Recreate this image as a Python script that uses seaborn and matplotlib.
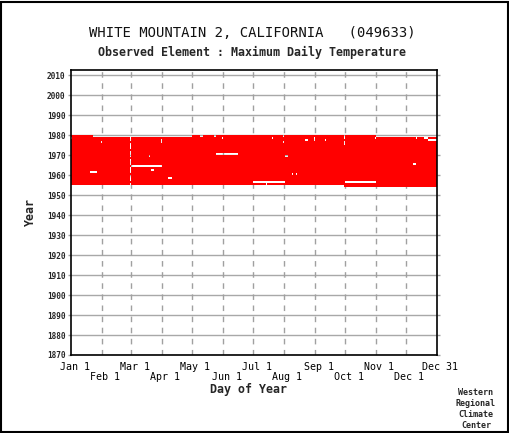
import numpy as np
import pandas as pd
import matplotlib
matplotlib.use("Agg")
import matplotlib.pyplot as plt
import matplotlib.transforms as mtrans
from matplotlib.patches import Rectangle
import seaborn as sns

# period of record, day index 0..365 on a 366 day calendar
first_year = 1954
last_year = 1979
leap_years = [1956, 1960, 1964, 1968, 1972, 1976]
feb29 = 59

# missing stretches: year, first day, end day (exclusive)
gap_year = [1954, 1979, 1979, 1979, 1979, 1979, 1979,
            1978, 1978, 1978, 1978, 1978, 1978, 1978, 1978,
            1977, 1977, 1977, 1977, 1977,
            1976, 1976, 1976, 1976, 1975,
            1970, 1969, 1969, 1965, 1964, 1962, 1961,
            1960, 1960, 1958, 1956, 1956, 1955]
gap_start = [0, 22, 129, 143, 212, 273, 305,
             0, 151, 201, 243, 273, 304, 345, 353,
             90, 234, 243, 254, 357,
             30, 90, 212, 273, 273,
             145, 78, 214, 342, 60, 80, 19,
             221, 225, 97, 182, 274, 195]
gap_end = [273, 121, 132, 145, 213, 274, 366,
           1, 152, 202, 244, 274, 305, 346, 357,
           91, 237, 244, 255, 366,
           31, 91, 213, 274, 274,
           167, 79, 217, 345, 91, 83, 26,
           222, 226, 101, 214, 305, 196]

month_days = [0, 31, 60, 91, 121, 152, 182, 213, 244, 274, 305, 335, 366]
month_labels = ["Jan 1", "Feb 1", "Mar 1", "Apr 1", "May 1", "Jun 1", "Jul 1",
                "Aug 1", "Sep 1", "Oct 1", "Nov 1", "Dec 1", "Dec 31"]
year_ticks = list(range(1870, 2011, 10))

gaps = pd.DataFrame({"year": gap_year, "start": gap_start, "end": gap_end})

sns.set_theme(style="white")
plt.rcParams["font.family"] = ["DejaVu Sans Mono", "DejaVu Sans"]

fig = plt.figure(figsize=(5.10, 4.33), dpi=100)
ax = fig.add_axes([71 / 510, 78 / 433, 366 / 510, 285 / 433])
ax.set_axisbelow(True)

for yr in range(first_year, last_year + 1):
    have = np.ones(366, dtype=bool)
    if yr not in leap_years:
        have[feb29] = False
    for _, g in gaps[gaps["year"] == yr].iterrows():
        have[g["start"]:g["end"]] = False
    # turn the day mask into runs
    d = np.diff(np.concatenate([[0], have.astype(int), [0]]))
    starts = np.where(d == 1)[0]
    ends = np.where(d == -1)[0]
    segs = [(s, e - s) for s, e in zip(starts, ends)]
    ax.broken_barh(segs, (yr, 1), facecolors="#ff0000", linewidth=0,
                   antialiased=False, zorder=2)

ax.set_xlim(0, 366)
ax.set_ylim(1870, 2012.7)

# grid: dashed month lines, solid decade lines
for x in month_days[1:-1]:
    ax.axvline(x, color="#a0a0a0", lw=1, ls=(0, (4, 4)), zorder=1)
ax.set_yticks(year_ticks)
ax.yaxis.grid(True, color="#a8a8a8", lw=1, zorder=1)
ax.xaxis.grid(False)

ax.set_xticks(month_days)
ax.set_xticklabels([("" if i % 2 == 0 else "\n") + lab
                    for i, lab in enumerate(month_labels)])
ax.tick_params(axis="x", length=0, pad=5, labelsize=7.2, colors="black")
shift = mtrans.ScaledTranslation(3.5 / 100, 0, fig.dpi_scale_trans)
for lbl in ax.get_xticklabels():
    lbl.set_transform(lbl.get_transform() + shift)
    lbl.set_linespacing(1.0)

ax.tick_params(axis="y", which="both", left=True, right=True, length=2.5,
               width=1, color="#a0a0a0", pad=1.5, labelsize=5.6)
for lbl in ax.get_yticklabels():
    lbl.set_fontweight("bold")

for s in ax.spines.values():
    s.set_color("black")
    s.set_linewidth(1.2)

ax.set_xlabel("Day of Year", fontsize=8.4, fontweight="bold")
ax.xaxis.set_label_coords((248 - 71) / 366, (355 - 390) / 285)
ax.xaxis.label.set_va("center")
ax.set_ylabel("Year", fontsize=8.4, fontweight="bold")
ax.yaxis.set_label_coords((30 - 71) / 366, 0.5)
ax.yaxis.label.set_va("center")

fig.text(252 / 510, 1 - 33 / 433, "WHITE MOUNTAIN 2, CALIFORNIA   (049633)",
         ha="center", va="center", fontsize=10, color="#111111")
fig.text(252 / 510, 1 - 52 / 433, "Observed Element : Maximum Daily Temperature",
         ha="center", va="center", fontsize=8.4, fontweight="bold")
fig.text(476 / 510, 1 - 409 / 433, "Western\nRegional\nClimate\nCenter",
         ha="center", va="center", fontsize=6, fontweight="bold",
         linespacing=1.25)

# outer frame, pulled in a pixel so all four sides show the same
fig.patches.append(Rectangle((1 / 510, 1 / 433), 1 - 2.5 / 510, 1 - 2.5 / 433,
                             transform=fig.transFigure, fill=False,
                             edgecolor="black", lw=1.5, joinstyle="miter"))

fig.savefig("out.png", dpi=100, facecolor="white")
